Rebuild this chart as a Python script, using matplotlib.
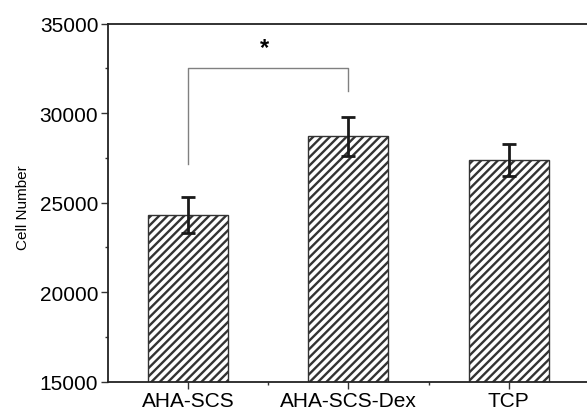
import numpy as np
import matplotlib.pyplot as plt

plt.rcParams['font.family'] = ['Liberation Sans', 'DejaVu Sans']
plt.rcParams['hatch.linewidth'] = 1.7

# Данные
groups = ["AHA-SCS", "AHA-SCS-Dex", "TCP"]
cell_number = [24300, 28700, 27400]
cell_err = [1000, 1100, 900]
yticks = [15000, 20000, 25000, 30000, 35000]

# Скобка значимости между первыми двумя группами
sig_pair = (0, 1)
sig_top = 32500
sig_legs = [27150, 31250]

fig = plt.figure(figsize=(5.87, 4.14), dpi=100)
ax = fig.add_axes([0.184, 0.0756, 0.83, 0.8652])

pos = np.arange(1, len(groups) + 1)
ax.bar(pos, cell_number, width=0.5, color='white', edgecolor='#333333',
       linewidth=1.0, hatch='////', zorder=2)
ax.errorbar(pos, cell_number, yerr=cell_err, fmt='none', ecolor='#1a1a1a',
            elinewidth=2, capsize=5, capthick=2, zorder=3)

# Скобка и звёздочка
x1, x2 = pos[sig_pair[0]], pos[sig_pair[1]]
ax.plot([x1, x1, x2, x2], [sig_legs[0], sig_top, sig_top, sig_legs[1]],
        color='#808080', linewidth=1.0, zorder=1)
ax.text((x1 + x2) / 2 - 0.025, sig_top + 500, "*", fontsize=17,
        fontweight='bold', ha='center', va='bottom')

# Оси (правый край за пределами картинки)
ax.set_xlim(0.5, 3.54)
ax.set_ylim(15000, 35000)
ax.set_yticks(yticks)
ax.set_yticks(np.arange(15000, 35001, 2500), minor=True)
ax.set_xticks(pos)
ax.set_xticks([1.5, 2.5], minor=True)
ax.set_xticklabels(groups, fontsize=15)
ax.tick_params(axis='y', labelsize=15)
ax.tick_params(which='major', direction='out', length=5, width=1.0,
               color='#333333', pad=2)
ax.tick_params(which='minor', direction='out', length=2.5, width=1.0,
               color='#333333')
ax.tick_params(top=False, right=False)
for s in ax.spines.values():
    s.set_linewidth(1.3)
    s.set_color('#222222')
ax.spines['right'].set_visible(False)

ax.set_ylabel("Cell Number", fontsize=11)
ax.yaxis.set_label_coords(-0.16, 0.49)

plt.savefig("out.png", dpi=100)
